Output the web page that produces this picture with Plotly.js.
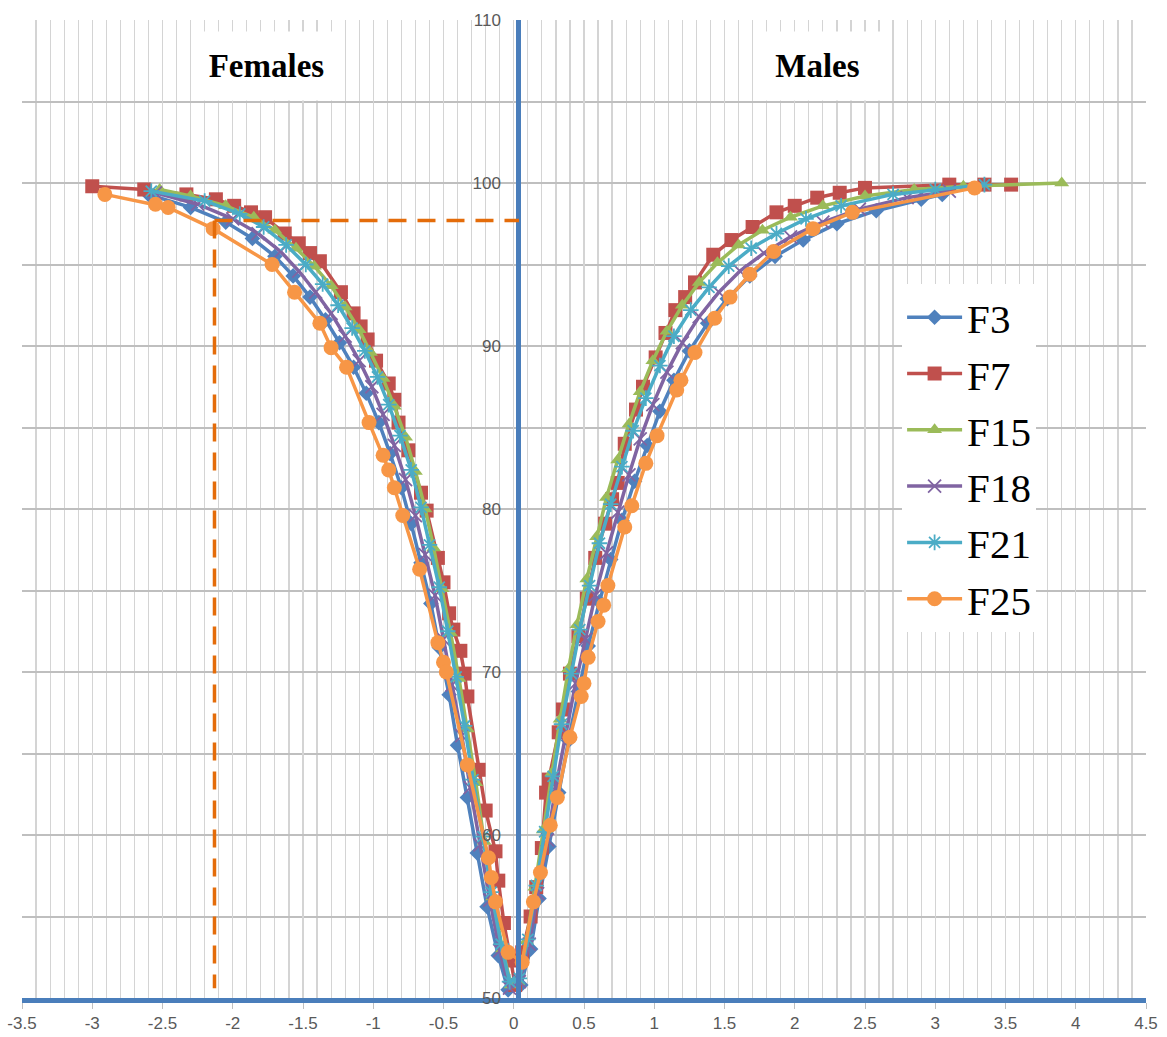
<!DOCTYPE html>
<html>
<head>
<meta charset="utf-8">
<script src="https://cdn.plot.ly/plotly-3.0.1.min.js"></script>
<style>html,body{margin:0;padding:0;background:#fff;}#chart{width:1167px;height:1037px;}</style>
</head>
<body>
<div id="chart"></div>
<script>
// ---- data ----
const seriesNames = ["F3", "F7", "F15", "F18", "F21", "F25"];

const f3x = [-2.6,-2.3,-2.05,-1.86,-1.7,-1.57,-1.45,-1.34,-1.24,-1.14,-1.05,-0.96,-0.88,-0.8,-0.73,-0.66,-0.59,-0.53,-0.46,-0.4,-0.33,-0.26,-0.19,-0.11,-0.04,
             0.05,0.12,0.18,0.25,0.32,0.39,0.46,0.53,0.61,0.69,0.77,0.86,0.95,1.04,1.14,1.25,1.38,1.52,1.68,1.86,2.06,2.3,2.58,2.9,3.05];
const f3y = [99.3,98.5,97.6,96.6,95.5,94.3,93.0,91.6,90.2,88.7,87.1,85.3,83.4,81.3,79.1,76.7,74.2,71.5,68.6,65.5,62.3,58.9,55.6,52.6,50.5,
             50.8,53.0,56.1,59.3,62.6,65.8,68.8,71.6,74.3,76.9,79.3,81.7,83.9,86.0,87.9,89.7,91.4,92.9,94.3,95.5,96.5,97.5,98.3,99.0,99.3];

const f7x = [-3.00,-2.63,-2.33,-2.12,-1.99,-1.87,-1.77,-1.63,-1.53,-1.45,-1.38,-1.23,-1.14,-1.09,-1.04,-0.98,-0.89,-0.85,-0.82,-0.75,-0.66,-0.62,-0.54,-0.50,-0.46,-0.43,-0.38,-0.35,-0.33,-0.25,-0.20,-0.13,-0.11,-0.07,-0.02,
             0.01,0.06,0.12,0.16,0.20,0.23,0.25,0.32,0.35,0.40,0.46,0.52,0.58,0.65,0.70,0.74,0.79,0.87,0.92,1.01,1.08,1.15,1.22,1.29,1.42,1.55,1.70,1.87,2.00,2.16,2.32,2.50,3.10,3.35,3.54];
const f7y = [99.8,99.6,99.3,99.0,98.6,98.2,97.9,96.9,96.3,95.7,95.2,93.3,92.0,91.2,90.4,89.1,87.7,86.7,85.3,83.6,81.0,79.9,77.0,75.5,73.6,72.6,71.3,69.9,68.5,64.0,61.5,59.0,57.2,54.6,52.3,
             50.8,52.8,55.0,56.8,59.2,62.6,63.4,66.3,67.7,69.9,72.2,74.5,77.0,79.1,80.6,81.6,84.0,86.1,87.5,89.3,90.8,92.2,93.0,93.9,95.6,96.5,97.3,98.2,98.6,99.1,99.4,99.7,99.9,99.9,99.9];

const f15x = [-2.52,-2.3,-2.05,-1.85,-1.7,-1.55,-1.42,-1.3,-1.2,-1.1,-1.02,-0.93,-0.85,-0.77,-0.7,-0.63,-0.57,-0.51,-0.45,-0.39,-0.33,-0.27,-0.21,-0.15,-0.08,-0.02,
              0.03,0.09,0.15,0.21,0.27,0.33,0.39,0.45,0.52,0.59,0.66,0.74,0.82,0.9,0.99,1.09,1.2,1.32,1.45,1.6,1.77,1.97,2.2,2.5,2.85,3.2,3.9];
const f15y = [99.6,99.2,98.6,97.9,97.1,96.0,94.9,93.7,92.4,91.0,89.6,88.0,86.3,84.4,82.3,80.0,77.6,75.1,72.4,69.6,66.5,63.2,59.6,56.2,53.0,50.8,
              51.0,53.5,56.8,60.3,63.8,67.1,70.2,72.9,75.7,78.3,80.7,83.0,85.2,87.2,89.1,90.9,92.5,93.9,95.1,96.2,97.1,97.9,98.6,99.2,99.6,99.8,100.0];

const f18x = [-2.55,-2.25,-2.0,-1.82,-1.66,-1.53,-1.41,-1.3,-1.2,-1.1,-1.01,-0.93,-0.85,-0.77,-0.7,-0.63,-0.56,-0.5,-0.44,-0.37,-0.31,-0.24,-0.17,-0.1,-0.03,
              0.04,0.11,0.17,0.24,0.3,0.37,0.44,0.51,0.58,0.66,0.74,0.82,0.9,0.99,1.09,1.2,1.32,1.46,1.61,1.78,1.97,2.2,2.46,2.8,3.1];
const f18y = [99.4,98.7,97.8,96.9,95.8,94.6,93.3,92.0,90.6,89.1,87.5,85.8,83.9,81.8,79.6,77.2,74.7,72.0,69.2,66.1,62.9,59.4,56.0,52.9,50.6,
              51.0,53.3,56.4,59.7,63.0,66.2,69.3,72.0,74.7,77.3,79.8,82.1,84.3,86.4,88.4,90.2,91.8,93.3,94.6,95.7,96.7,97.6,98.4,99.1,99.5];

const f21x = [-2.58,-2.2,-1.95,-1.78,-1.62,-1.48,-1.36,-1.25,-1.15,-1.06,-0.97,-0.89,-0.81,-0.73,-0.66,-0.6,-0.53,-0.47,-0.41,-0.35,-0.29,-0.22,-0.16,-0.09,-0.03,
              0.04,0.1,0.16,0.22,0.28,0.34,0.41,0.47,0.54,0.61,0.69,0.77,0.85,0.94,1.04,1.14,1.26,1.39,1.53,1.69,1.87,2.08,2.33,2.7,3.0,3.35];
const f21y = [99.5,98.9,98.1,97.3,96.2,95.0,93.8,92.5,91.1,89.7,88.1,86.4,84.5,82.4,80.1,77.8,75.2,72.5,69.7,66.7,63.4,59.9,56.5,53.3,51.0,
              51.2,53.6,56.9,60.2,63.6,66.8,69.9,72.6,75.3,77.9,80.3,82.6,84.8,86.8,88.8,90.6,92.2,93.6,94.9,96.0,96.9,97.8,98.6,99.3,99.6,99.9];

const f25x = [-2.91,-2.55,-2.46,-2.14,-1.72,-1.56,-1.38,-1.30,-1.19,-1.03,-0.93,-0.89,-0.85,-0.79,-0.67,-0.54,-0.50,-0.48,-0.33,-0.18,-0.16,-0.13,-0.04,
              0.06,0.14,0.19,0.26,0.31,0.40,0.48,0.50,0.53,0.60,0.64,0.67,0.79,0.84,0.94,1.02,1.16,1.19,1.29,1.43,1.54,1.68,1.85,2.13,2.41,3.28];
const f25y = [99.3,98.7,98.5,97.2,95.0,93.3,91.4,89.9,88.7,85.3,83.3,82.4,81.3,79.6,76.3,71.8,70.6,70.0,64.3,58.6,57.4,55.9,52.8,
              52.2,55.9,57.7,60.6,62.3,66.0,68.5,69.3,70.9,73.1,74.1,75.3,78.9,80.2,82.8,84.5,87.3,87.9,89.6,91.7,93.0,94.4,95.8,97.2,98.2,99.7];

// reference (dashed) guide value
const refX = -2.13;
const refY = 97.7;

const xTickVals = [-3.5,-3,-2.5,-2,-1.5,-1,-0.5,0,0.5,1,1.5,2,2.5,3,3.5,4,4.5];
const yTickVals = [50,60,70,80,90,100,110];
const groupLabels = ["Females", "Males"];

// ---- styles ----
const colors = ["#4F81BD", "#C0504D", "#9BBB59", "#8064A2", "#4BACC6", "#F79646"];
const symbols = ["diamond", "square", "triangle-up", "x-thin-open", "asterisk-open", "circle"];
const sizes = [12, 14, 13, 13, 13, 15];
const xs = [f3x, f7x, f15x, f18x, f21x, f25x];
const ys = [f3y, f7y, f15y, f18y, f21y, f25y];

const traces = seriesNames.map((n, i) => {
  const open = symbols[i].endsWith("open");
  return {
    type: "scatter", mode: "lines+markers", name: n,
    x: xs[i], y: ys[i],
    line: {color: colors[i], width: 3.5},
    marker: {symbol: symbols[i], size: sizes[i], color: colors[i],
             line: {color: colors[i], width: open ? 1.8 : 0}}
  };
});

const axisBlue = "#4A7EBB";
const tickFont = {family: "Liberation Sans Narrow, Arial Narrow, Liberation Sans, sans-serif", size: 17, color: "#595959"};

const layout = {
  width: 1167, height: 1037,
  margin: {l: 22, r: 21, t: 20, b: 39},
  paper_bgcolor: "#ffffff", plot_bgcolor: "#ffffff",
  showlegend: true,
  legend: {
    x: 0.783, y: 0.730, xanchor: "left", yanchor: "top",
    bgcolor: "#ffffff", borderwidth: 0,
    font: {family: "Liberation Serif, DejaVu Serif, serif", size: 41, color: "#000"},
    itemwidth: 55, tracegroupgap: 0
  },
  xaxis: {
    range: [-3.5, 4.5], tickmode: "array", tickvals: xTickVals,
    ticktext: xTickVals.map(String),
    showgrid: true, gridcolor: "#d4d4d4", gridwidth: 1.2,
    minor: {dtick: 0.1, tick0: 0, showgrid: true, gridcolor: "#d4d4d4", gridwidth: 1.2, ticks: ""},
    zeroline: false,
    showline: true, linecolor: axisBlue, linewidth: 5,
    ticks: "outside", ticklen: 6, tickcolor: "#bfbfbf", tickwidth: 1,
    tickfont: tickFont, fixedrange: true
  },
  yaxis: {
    range: [50, 110], tickmode: "array", tickvals: yTickVals,
    showgrid: true, gridcolor: "#bfbfbf", gridwidth: 2,
    minor: {dtick: 5, tick0: 50, showgrid: true, gridcolor: "#bfbfbf", gridwidth: 2, ticks: ""},
    zeroline: false,
    anchor: "free", position: 0.4415, side: "left",
    showline: true, linecolor: axisBlue, linewidth: 5,
    ticks: "", ticklabelstandoff: 12,
    tickfont: tickFont, fixedrange: true
  },
  shapes: [
    {type: "line", xref: "x", yref: "y", x0: refX, x1: 0.037, y0: refY, y1: refY,
     line: {color: "#E46C0A", width: 3.5, dash: "18px,11px"}},
    {type: "line", xref: "x", yref: "y", x0: refX, x1: refX, y0: refY, y1: 50.6,
     line: {color: "#E46C0A", width: 3.5, dash: "18px,11px"}}
  ],
  annotations: [
    {xref: "x", yref: "y", x: -1.76, y: 107.2, text: "<b>" + groupLabels[0] + "</b>", showarrow: false,
     font: {family: "Liberation Serif, DejaVu Serif, serif", size: 33, color: "#000"},
     bgcolor: "#ffffff", width: 143, height: 66},
    {xref: "x", yref: "y", x: 2.16, y: 107.2, text: "<b>" + groupLabels[1] + "</b>", showarrow: false,
     font: {family: "Liberation Serif, DejaVu Serif, serif", size: 33, color: "#000"},
     bgcolor: "#ffffff", width: 125, height: 66}
  ]
};

Plotly.newPlot("chart", traces, layout, {displayModeBar: false, staticPlot: true});
</script>
</body>
</html>
